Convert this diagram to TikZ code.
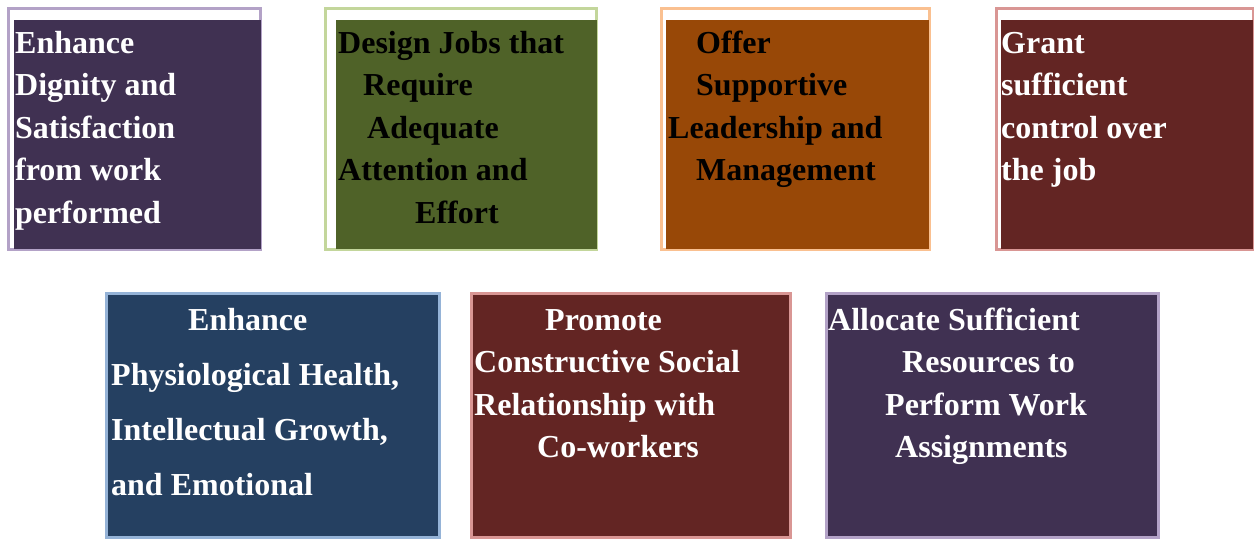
\documentclass[tikz,border=0pt]{standalone}
\usepackage{fontspec}
\setmainfont{Liberation Serif}
\usetikzlibrary{positioning}
\definecolor{plumdark}{HTML}{403152}
\definecolor{plumlight}{HTML}{B3A2C7}
\definecolor{olivedark}{HTML}{4F6228}
\definecolor{olivelight}{HTML}{C3D69B}
\definecolor{rustdark}{HTML}{984807}
\definecolor{rustlight}{HTML}{FAC090}
\definecolor{maroondark}{HTML}{632523}
\definecolor{maroonlight}{HTML}{D99694}
\definecolor{navydark}{HTML}{254061}
\definecolor{navylight}{HTML}{95B3D7}

\begin{document}
\begin{tikzpicture}[
    x=1pt, y=-1pt,
    frame/.style={line width=3pt},
    panel/.style={rectangle, anchor=north west, inner sep=0pt, outer sep=0pt},
    blurb/.style={anchor=base west, inner sep=0pt, align=left, font=\bfseries\fontsize{32}{42.5}\selectfont}
]
    \useasboundingbox (0,0) rectangle (1254,539);

    % top row: frame offset behind the panel
    \draw[frame, draw=plumlight] (8,8) rectangle (260,249);
    \node[panel, fill=plumdark, minimum width=247pt, minimum height=229pt] (dignity) at (14,20) {};
    \draw[frame, draw=olivelight] (325,8) rectangle (596,249);
    \node[panel, fill=olivedark, minimum width=261pt, minimum height=229pt] (jobs) at (336,20) {};
    \draw[frame, draw=rustlight] (661,8) rectangle (929,249);
    \node[panel, fill=rustdark, minimum width=263pt, minimum height=229pt] (leader) at (666,20) {};
    \draw[frame, draw=maroonlight] (996,8) rectangle (1253,249);
    \node[panel, fill=maroondark, minimum width=252pt, minimum height=229pt] (control) at (1001,20) {};

    % bottom row
    \node[panel, frame, fill=navydark, draw=navylight, minimum width=333pt, minimum height=244pt] (health) at (106,293) {};
    \node[panel, frame, fill=maroondark, draw=maroonlight, minimum width=319pt, minimum height=244pt] (social) at (471,293) {};
    \node[panel, frame, fill=plumdark, draw=plumlight, minimum width=332pt, minimum height=244pt] (resources) at (826,293) {};

    % texts (anchored on the last line's baseline)
    \node[blurb, text=white] (dignity-txt) at (15,223) {Enhance\\Dignity and\\Satisfaction\\from work\\performed};
    \node[blurb, text=black] (jobs-txt) at (338,223) {Design Jobs that\\\hspace*{25pt}Require\\\hspace*{29pt}Adequate\\Attention and\\\hspace*{77pt}Effort};
    \node[blurb, text=black] (leader-txt) at (668,180.5) {\hspace*{28pt}Offer\\\hspace*{28pt}Supportive\\Leadership and\\\hspace*{28pt}Management};
    \node[blurb, text=white] (control-txt) at (1001,180.5) {Grant\\sufficient\\control over\\the job};
    \node[blurb, text=white] (health-txt) at (111,495) {\hspace*{77pt}Enhance\\[12.5pt]Physiological Health,\\[12.5pt]Intellectual Growth,\\[12.5pt]and Emotional};
    \node[blurb, text=white] (social-txt) at (474,457.5) {\hspace*{71pt}Promote\\Constructive Social\\Relationship with\\\hspace*{63pt}Co-workers};
    \node[blurb, text=white] (resources-txt) at (828,457.5) {Allocate Sufficient\\\hspace*{74pt}Resources to\\\hspace*{57pt}Perform Work\\\hspace*{67pt}Assignments};
\end{tikzpicture}
\end{document}
